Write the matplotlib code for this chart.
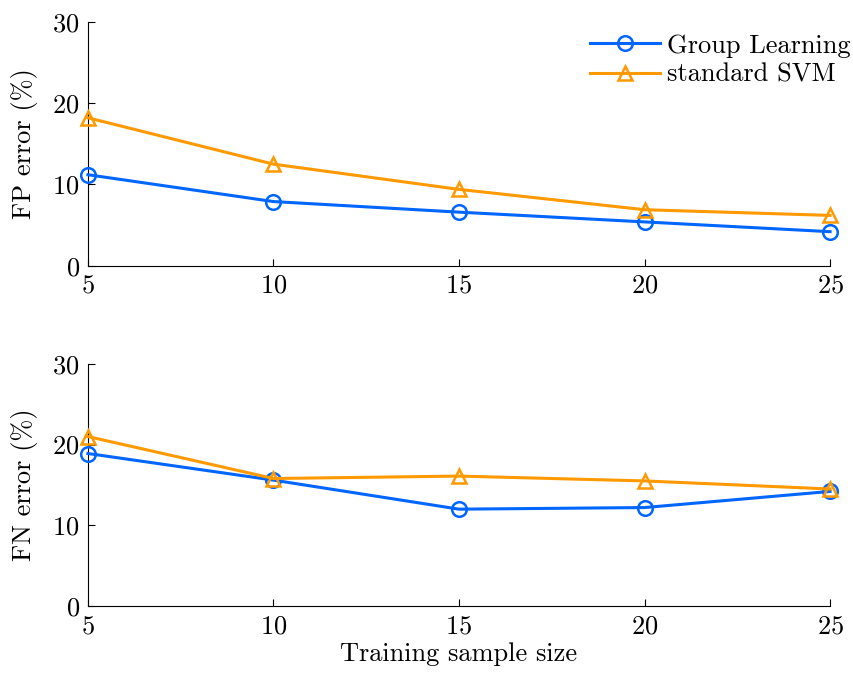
import numpy as np
import matplotlib
matplotlib.use('Agg')
import matplotlib.pyplot as plt

# ── Données ───────────────────────────────────────────────────
sample_size = [5, 10, 15, 20, 25]
fp_group = [11.2, 7.9, 6.6, 5.4, 4.2]
fp_svm   = [18.2, 12.5, 9.4, 6.9, 6.2]
fn_group = [18.9, 15.6, 12.0, 12.2, 14.2]
fn_svm   = [21.0, 15.8, 16.1, 15.5, 14.5]
yticks   = [0, 10, 20, 30]

# ── Style ─────────────────────────────────────────────────────
plt.rcParams['font.family'] = 'serif'
plt.rcParams['font.serif'] = ['cmr10']
plt.rcParams['mathtext.fontset'] = 'cm'
plt.rcParams['axes.formatter.use_mathtext'] = True

BLUE   = '#0066ff'
ORANGE = '#ff9900'
FS = 19

fig = plt.figure(figsize=(8.54, 6.73), dpi=100)
ax1 = fig.add_axes([0.103, 0.605, 0.869, 0.3626])
ax2 = fig.add_axes([0.103, 0.0996, 0.869, 0.3596])

def style(ax, ylabel):
    ax.set_xlim(5, 25)
    ax.set_ylim(0, 30)
    ax.set_xticks(sample_size)
    ax.set_yticks(yticks)
    ax.spines['top'].set_visible(False)
    ax.spines['right'].set_visible(False)
    ax.tick_params(direction='in', length=5, labelsize=FS, pad=6)
    ax.set_ylabel(ylabel, fontsize=FS, labelpad=10)

kw = dict(linewidth=2.2, markersize=10.5, markeredgewidth=1.8, markerfacecolor='none',
          clip_on=False, zorder=3)
ax1.plot(sample_size, fp_group, color=BLUE, marker='o', label='Group Learning', **kw)
ax1.plot(sample_size, fp_svm, color=ORANGE, marker='^', label='standard SVM', **kw)
style(ax1, 'FP error (%)')

ax2.plot(sample_size, fn_group, color=BLUE, marker='o', **kw)
ax2.plot(sample_size, fn_svm, color=ORANGE, marker='^', **kw)
style(ax2, 'FN error (%)')
ax2.set_xlabel('Training sample size', fontsize=FS, labelpad=3)

ax1.legend(loc='upper left', bbox_to_anchor=(590 / 854, 1 - 34 / 673),
           bbox_transform=fig.transFigure, frameon=False, fontsize=FS,
           borderpad=0, borderaxespad=0, handlelength=2.65, handletextpad=0.27,
           labelspacing=0.2)

plt.savefig('out.png', dpi=100)
